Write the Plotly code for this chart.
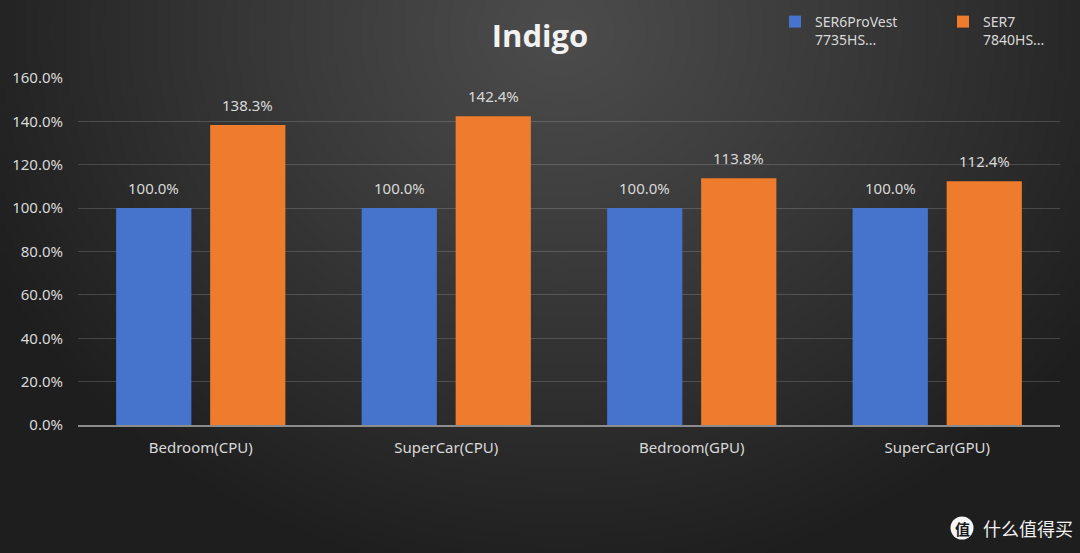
import base64, struct, zlib
import numpy as np
import plotly.graph_objects as go

categories = ["Bedroom(CPU)", "SuperCar(CPU)", "Bedroom(GPU)", "SuperCar(GPU)"]
series_names = ["SER6ProVest<br>7735HS...", "SER7<br>7840HS..."]
ser6_values = [100.0, 100.0, 100.0, 100.0]
ser7_values = [138.3, 142.4, 113.8, 112.4]
series_colors = ["#4674cc", "#ef7b2d"]

W, H = 1080, 553
ML, MR, MT, MB = 78, 20, 78, 128
PW, PH = W - ML - MR, H - MT - MB


def make_png(arr):
    h, w, _ = arr.shape
    raw = b"".join(b"\x00" + arr[i].tobytes() for i in range(h))

    def chunk(tag, data):
        c = struct.pack(">I", len(data)) + tag + data
        return c + struct.pack(">I", zlib.crc32(tag + data) & 0xFFFFFFFF)

    png = b"\x89PNG\r\n\x1a\n"
    png += chunk(b"IHDR", struct.pack(">IIBBBBB", w, h, 8, 2, 0, 0, 0))
    png += chunk(b"IDAT", zlib.compress(raw, 9))
    png += chunk(b"IEND", b"")
    return "data:image/png;base64," + base64.b64encode(png).decode()


gw, gh = 270, 138
yy, xx = np.mgrid[0:gh, 0:gw]
xs = xx / gw * W
ys = yy / gh * H
d = np.sqrt(((xs - 560) / 640) ** 2 + ((ys - 30) / 560) ** 2)
d = np.clip(d, 0, 1)
v = 76 - (76 - 30) * d ** 1.1
img = np.stack([v, v, v], axis=-1).astype(np.uint8)
bg_src = make_png(img)

FONT = "Noto Sans"
TXT = "#d9d9d9"

fig = go.Figure()
fig.add_trace(go.Bar(x=categories, y=ser6_values, name=series_names[0], legend="legend",
                     showlegend=True,
                     marker=dict(color=series_colors[0], line=dict(width=0))))
fig.add_trace(go.Bar(x=categories, y=ser7_values, name=series_names[1], legend="legend2",
                     showlegend=True,
                     marker=dict(color=series_colors[1], line=dict(width=0))))

bargap, bargroupgap = 0.234, 0.2
slot = (1 - bargap) / 2
for si, vals in enumerate([ser6_values, ser7_values]):
    off = (si - 0.5) * slot
    for ci, val in enumerate(vals):
        fig.add_annotation(x=ci + off, y=val, xref="x", yref="y",
                           text=f"{val:.1f}%", showarrow=False,
                           yanchor="bottom", yshift=8,
                           font=dict(family=FONT, size=15, color=TXT))

# watermark
cx, cy, r = 962, 528, 11.5
fig.add_shape(type="circle", xref="paper", yref="paper",
              x0=(cx - r - ML) / PW, x1=(cx + r - ML) / PW,
              y0=(H - MB - (cy + r)) / PH, y1=(H - MB - (cy - r)) / PH,
              fillcolor="#f5f5f5", line=dict(width=0), layer="above")
fig.add_annotation(x=(cx - ML) / PW, y=(H - MB - cy) / PH, xref="paper", yref="paper",
                   text="<b>值</b>", showarrow=False, xanchor="center", yanchor="middle",
                   font=dict(family="Noto Sans CJK SC", size=15, color="#1a1a1a"))
fig.add_annotation(x=(981 - ML) / PW, y=(H - MB - cy) / PH, xref="paper", yref="paper",
                   text="什么值得买", showarrow=False, xanchor="left", yanchor="middle",
                   font=dict(family="Noto Sans CJK SC", size=18, color="#f0f0f0"))

legend_common = dict(orientation="v", xanchor="left", yanchor="top", valign="top",
                     y=1 + (MT - 6) / PH, bgcolor="rgba(0,0,0,0)",
                     font=dict(family=FONT, size=14, color=TXT))

fig.update_layout(
    width=W, height=H,
    showlegend=True,
    margin=dict(l=ML, r=MR, t=MT, b=MB, autoexpand=False),
    paper_bgcolor="#2e2e2e",
    plot_bgcolor="rgba(0,0,0,0)",
    images=[dict(source=bg_src, xref="paper", yref="paper",
                 x=-ML / PW, y=1 + MT / PH, sizex=W / PW, sizey=H / PH,
                 xanchor="left", yanchor="top", sizing="stretch", layer="below")],
    barmode="group", bargap=bargap, bargroupgap=bargroupgap,
    title=dict(text="<b>Indigo</b>", x=0.5, xref="container", xanchor="center",
               y=1 - 36 / H, yref="container", yanchor="middle",
               font=dict(family="Open Sans", size=31, color="#f2f2f2")),
    font=dict(family=FONT, size=15, color=TXT),
    legend=dict(legend_common, x=(775 - ML) / PW),
    legend2=dict(legend_common, x=(943 - ML) / PW),
    xaxis=dict(showgrid=False, showline=True, linecolor="#8c8c8c", linewidth=1.5,
               ticks="", ticklabelstandoff=8,
               tickfont=dict(family=FONT, size=15, color=TXT)),
    yaxis=dict(range=[0, 160], dtick=20, tickformat=".1f", ticksuffix="%",
               showgrid=True, gridcolor="rgba(255,255,255,0.16)", gridwidth=1,
               zeroline=False, showline=False, ticks="", ticklabelstandoff=14,
               tickfont=dict(family=FONT, size=15, color=TXT)),
)

fig.write_html("out.html")
